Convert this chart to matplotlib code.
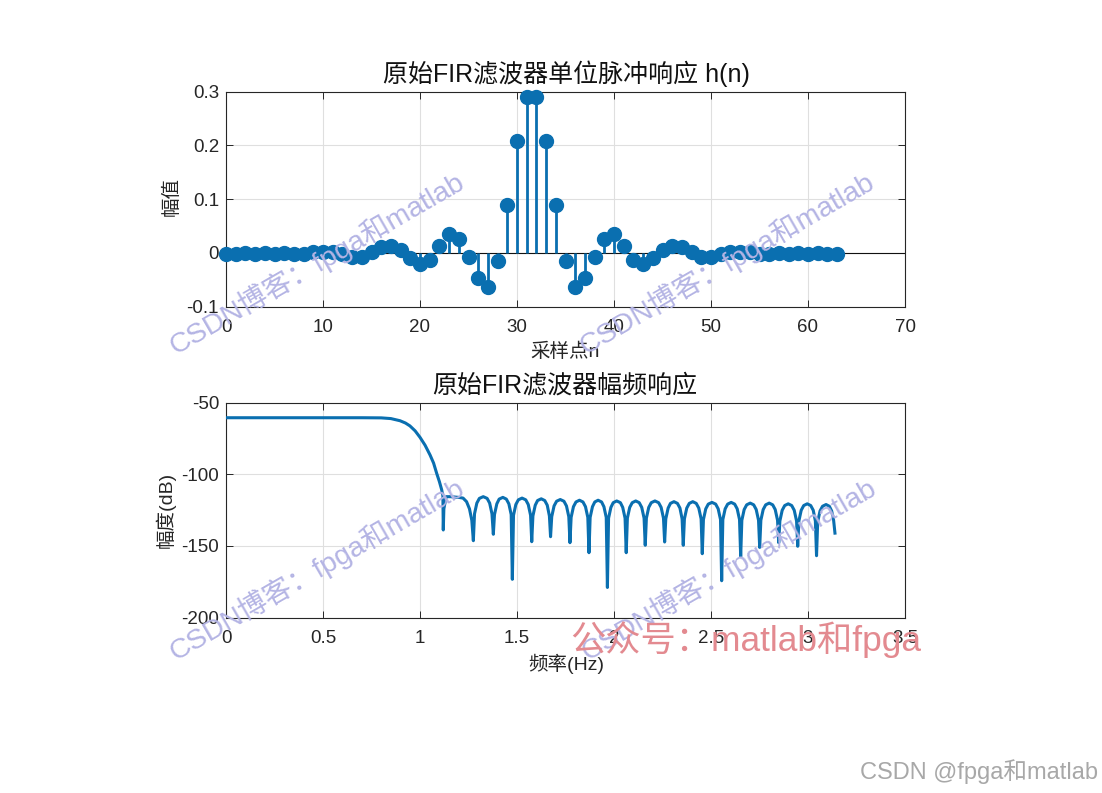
import matplotlib
matplotlib.use("Agg")
import matplotlib.pyplot as plt

# ── Data ────────────────────────────────────────────────────────────────────
n_samples = list(range(64))
h_n = [-0.002, -0.002, -0.001, -0.002, -0.001, -0.002, -0.001, -0.003,
       -0.002, 0.001, 0.002, 0.001, -0.002, -0.008, -0.007, 0.002,
       0.010, 0.012, 0.006, -0.010, -0.020, -0.013, 0.012, 0.034,
       0.026, -0.007, -0.047, -0.063, -0.016, 0.088, 0.208, 0.289,
       0.289, 0.208, 0.088, -0.016, -0.063, -0.047, -0.007, 0.026,
       0.034, 0.012, -0.013, -0.020, -0.010, 0.006, 0.012, 0.010,
       0.002, -0.007, -0.008, -0.002, 0.001, 0.002, 0.001, -0.002,
       -0.003, -0.001, -0.002, -0.001, -0.002, -0.001, -0.002, -0.002]

freq = [0, 0.2, 0.4, 0.6, 0.7, 0.8, 0.85, 0.897, 0.925, 0.948, 0.975, 1.0, 1.026, 1.052, 1.07, 1.086, 1.10, 1.112, 1.118, 1.120,
        1.123, 1.135, 1.155, 1.20, 1.222, 1.24, 1.255, 1.267, 1.275,
        1.281, 1.293, 1.306, 1.326, 1.346, 1.359, 1.371, 1.378,
        1.384, 1.396, 1.408, 1.427, 1.445, 1.458, 1.470, 1.476,
        1.482, 1.494, 1.507, 1.526, 1.545, 1.558, 1.570, 1.576,
        1.582, 1.594, 1.606, 1.625, 1.643, 1.656, 1.667, 1.673,
        1.679, 1.691, 1.704, 1.723, 1.742, 1.755, 1.767, 1.773,
        1.779, 1.791, 1.804, 1.822, 1.840, 1.853, 1.865, 1.871,
        1.877, 1.889, 1.901, 1.918, 1.936, 1.948, 1.960, 1.966,
        1.972, 1.984, 1.996, 2.014, 2.033, 2.045, 2.057, 2.063,
        2.069, 2.081, 2.094, 2.112, 2.130, 2.143, 2.155, 2.161,
        2.167, 2.179, 2.192, 2.211, 2.230, 2.243, 2.255, 2.261,
        2.267, 2.279, 2.291, 2.309, 2.327, 2.340, 2.351, 2.357,
        2.363, 2.375, 2.388, 2.406, 2.424, 2.437, 2.449, 2.455,
        2.461, 2.473, 2.486, 2.505, 2.524, 2.537, 2.549, 2.555,
        2.561, 2.573, 2.586, 2.604, 2.622, 2.635, 2.647, 2.653,
        2.659, 2.671, 2.684, 2.702, 2.720, 2.733, 2.745, 2.751,
        2.757, 2.769, 2.782, 2.800, 2.818, 2.831, 2.843, 2.849,
        2.855, 2.867, 2.880, 2.898, 2.916, 2.929, 2.941, 2.947,
        2.953, 2.965, 2.978, 2.996, 3.014, 3.027, 3.038, 3.044,
        3.050, 3.062, 3.075, 3.093, 3.110, 3.122, 3.132, 3.139]

mag_db = [-60.3, -60.3, -60.3, -60.3, -60.3, -60.4, -60.9, -62.4, -64, -66, -69.5, -74, -79.5, -86.4, -92, -99.2, -105, -110.8, -115, -138.8,
          -124, -115.5, -115.5, -116, -116.5, -119, -124, -132, -146.3,
          -127.5, -120, -116.7, -115.5, -116.7, -120, -127.5, -141.8,
          -128, -120.5, -117.2, -116, -117.2, -120.5, -128, -173.3,
          -128.5, -121, -117.7, -116.5, -117.7, -121, -128.5, -147,
          -129, -121.5, -118.2, -117, -118.2, -121.5, -129, -143.5,
          -129.5, -122, -118.7, -117.5, -118.7, -122, -129.5, -147.7,
          -130, -122.5, -119.2, -118, -119.2, -122.5, -130, -154.7,
          -130, -122.5, -119.2, -118, -119.2, -122.5, -130, -179,
          -130.5, -123, -119.7, -118.5, -119.7, -123, -130.5, -154.7,
          -130.5, -123, -119.7, -118.5, -119.7, -123, -130.5, -149.5,
          -130.5, -123, -119.7, -118.5, -119.7, -123, -130.5, -147.2,
          -131, -123.5, -120.2, -119, -120.2, -123.5, -131, -149.5,
          -131, -123.5, -120.2, -119, -120.2, -123.5, -131, -155.4,
          -131.5, -124, -120.7, -119.5, -120.7, -124, -131.5, -174.3,
          -131.5, -124, -120.7, -119.5, -120.7, -124, -131.5, -157.5,
          -132, -124.5, -121.2, -120, -121.2, -124.5, -132, -151,
          -132, -124.5, -121.2, -120, -121.2, -124.5, -132, -147.7,
          -132.5, -125, -121.7, -120.5, -121.7, -125, -132.5, -150.2,
          -132.5, -125, -121.7, -120.5, -121.7, -125, -132.5, -156.8,
          -133, -125.5, -122.2, -121, -122.2, -125.5, -132, -141]

x_ticks_top = [0, 10, 20, 30, 40, 50, 60, 70]
y_ticks_top = [-0.1, 0, 0.1, 0.2, 0.3]
y_labels_top = ["-0.1", "0", "0.1", "0.2", "0.3"]
x_ticks_bot = [0, 0.5, 1, 1.5, 2, 2.5, 3, 3.5]
x_labels_bot = ["0", "0.5", "1", "1.5", "2", "2.5", "3", "3.5"]
y_ticks_bot = [-200, -150, -100, -50]

# ── Style ───────────────────────────────────────────────────────────────────
W, H = 1102, 793
BLUE = "#0a6fb0"
DARK = "#262626"
FONT = ["Liberation Sans", "Noto Sans CJK SC", "DejaVu Sans"]
plt.rcParams["font.family"] = FONT
plt.rcParams["axes.unicode_minus"] = False


def axes_px(fig, left, top, right, bottom):
    return fig.add_axes([left / W, 1 - bottom / H, (right - left) / W, (bottom - top) / H])


def fig_text(fig, x, y, s, **kw):
    kw.setdefault("ha", "center")
    kw.setdefault("va", "center")
    return fig.text(x / W, 1 - y / H, s, **kw)


def style_axes(ax):
    ax.grid(True, color="#dfdfdf", lw=0.8)
    ax.set_axisbelow(True)
    ax.tick_params(direction="in", length=5, width=0.7, top=True, right=True,
                   labelsize=13.5, colors=DARK)
    ax.tick_params(axis="x", pad=9)
    ax.tick_params(axis="y", pad=5)
    for sp in ax.spines.values():
        sp.set_color(DARK)
        sp.set_linewidth(0.8)


fig = plt.figure(figsize=(W / 100, H / 100), dpi=100)

# ── Impulse response ────────────────────────────────────────────────────────
ax1 = axes_px(fig, 226, 91.5, 905, 306.5)
ax1.vlines(n_samples, 0, h_n, color=BLUE, lw=2.0, zorder=3)
ax1.plot(n_samples, h_n, "o", color=BLUE, ms=10, clip_on=False, zorder=4)
ax1.axhline(0, color="#111111", lw=0.8, zorder=2)
ax1.set_xlim(0, 70)
ax1.set_ylim(-0.1, 0.3)
ax1.set_xticks(x_ticks_top)
ax1.set_yticks(y_ticks_top, y_labels_top)
style_axes(ax1)

# ── Magnitude response ──────────────────────────────────────────────────────
ax2 = axes_px(fig, 226, 403, 905, 617.5)
ax2.plot(freq, mag_db, color=BLUE, lw=2.2, zorder=3)
ax2.set_xlim(0, 3.5)
ax2.set_ylim(-200, -50)
ax2.set_xticks(x_ticks_bot, x_labels_bot)
ax2.set_yticks(y_ticks_bot)
style_axes(ax2)

# ── Titles and labels ───────────────────────────────────────────────────────
fig_text(fig, 566, 74, "原始FIR滤波器单位脉冲响应 h(n)", fontsize=18, color="#111111")
fig_text(fig, 565, 385, "原始FIR滤波器幅频响应", fontsize=18, color="#111111")
fig_text(fig, 565, 352, "采样点n", fontsize=14, color=DARK)
fig_text(fig, 566, 664, "频率(Hz)", fontsize=14, color=DARK)
fig_text(fig, 172, 197, "幅值", fontsize=14, color=DARK, rotation=90)
fig_text(fig, 166, 510, "幅度(dB)", fontsize=14, color=DARK, rotation=90)

# ── Watermarks ──────────────────────────────────────────────────────────────
for x0, y0 in [(178, 360), (588, 360), (178, 666), (590, 666)]:
    fig_text(fig, x0, y0, "CSDN博客：fpga和matlab", fontsize=20.5, color="#b4b4e4",
             rotation=30, rotation_mode="anchor", ha="left", va="bottom", zorder=10)
fig_text(fig, 746, 640, "公众号：matlab和fpga", fontsize=25.4, color="#e38a90", zorder=11)
fig_text(fig, 979, 772, "CSDN @fpga和matlab", fontsize=17, color="#a8a8a8")

fig.savefig("out.png", dpi=100)
